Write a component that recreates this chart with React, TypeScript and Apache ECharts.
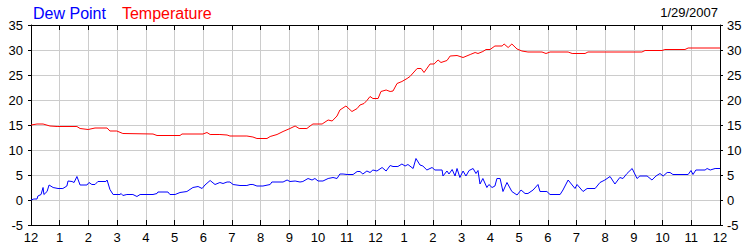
import React, { useEffect, useRef } from "react";
import * as echarts from "echarts";

// hours after midnight (0..24) and readings
const tempHours = [0, 0.21, 0.42, 0.66, 0.91, 1.6, 1.71, 1.99, 2.23, 2.65, 2.75, 2.99, 3.2, 4.25, 4.39, 5.19, 5.26, 5.99, 6.13, 6.24, 6.58, 6.83, 6.93, 7.52, 7.73, 7.87, 8.22, 8.33, 8.57, 8.78, 9.02, 9.2, 9.34, 9.61, 9.72, 9.82, 10.14, 10.35, 10.49, 10.66, 10.76, 10.97, 11.18, 11.36, 11.46, 11.6, 11.7, 11.81, 11.91, 12.09, 12.19, 12.37, 12.51, 12.61, 12.75, 12.92, 13.1, 13.2, 13.45, 13.59, 13.69, 13.9, 14.04, 14.18, 14.28, 14.49, 14.6, 14.84, 15.05, 15.3, 15.47, 15.57, 15.74, 15.85, 15.99, 16.16, 16.41, 16.48, 16.62, 16.75, 16.93, 17.1, 17.31, 17.8, 17.94, 18.08, 18.71, 18.85, 19.3, 19.4, 21.28, 21.39, 21.98, 22.08, 22.78, 22.89, 24];
const tempValues = [15.0, 15.2, 15.2, 14.8, 14.7, 14.7, 14.3, 14.1, 14.4, 14.4, 13.8, 13.8, 13.3, 13.2, 12.9, 12.9, 13.2, 13.2, 13.5, 13.1, 13.1, 13.0, 12.8, 12.8, 12.6, 12.3, 12.3, 12.7, 13.1, 13.7, 14.3, 14.8, 14.3, 14.3, 14.8, 15.2, 15.2, 16.0, 15.8, 16.8, 18.0, 18.8, 17.7, 18.3, 19.0, 19.3, 19.9, 20.7, 20.3, 20.3, 21.7, 22.0, 21.7, 21.8, 23.3, 23.7, 24.3, 24.7, 26.3, 26.3, 25.5, 27.2, 27.2, 28.0, 27.5, 27.9, 28.8, 28.9, 28.5, 29.1, 29.5, 29.3, 29.7, 30.1, 30.1, 30.8, 30.8, 31.2, 30.5, 31.2, 30.2, 29.8, 29.6, 29.6, 29.3, 29.6, 29.6, 29.3, 29.3, 29.6, 29.6, 29.9, 29.9, 30.1, 30.1, 30.4, 30.4];

const dewHours = [0, 0.1, 0.21, 0.24, 0.35, 0.42, 0.45, 0.56, 0.63, 0.77, 0.94, 1.11, 1.25, 1.29, 1.43, 1.5, 1.6, 1.71, 1.95, 2.02, 2.12, 2.23, 2.33, 2.61, 2.65, 2.75, 2.86, 3.1, 3.14, 3.2, 3.34, 3.55, 3.69, 3.8, 4.25, 4.39, 4.42, 4.77, 4.84, 5.02, 5.19, 5.43, 5.64, 5.82, 5.96, 6.06, 6.24, 6.41, 6.58, 6.69, 6.83, 6.93, 7.04, 7.28, 7.52, 7.63, 7.73, 7.87, 8.08, 8.33, 8.39, 8.78, 8.92, 9.02, 9.2, 9.37, 9.47, 9.65, 9.79, 9.89, 10.0, 10.17, 10.35, 10.52, 10.66, 10.76, 10.87, 11.01, 11.22, 11.36, 11.46, 11.56, 11.7, 11.81, 11.91, 12.05, 12.23, 12.37, 12.51, 12.61, 12.78, 12.92, 13.03, 13.13, 13.31, 13.41, 13.55, 13.65, 13.79, 13.97, 14.07, 14.32, 14.35, 14.49, 14.56, 14.67, 14.77, 14.84, 14.94, 15.05, 15.15, 15.26, 15.4, 15.5, 15.57, 15.64, 15.74, 15.88, 15.95, 16.06, 16.16, 16.23, 16.34, 16.44, 16.58, 16.75, 16.93, 17.07, 17.21, 17.31, 17.49, 17.66, 17.73, 17.97, 18.08, 18.43, 18.53, 18.71, 18.85, 18.95, 19.02, 19.23, 19.37, 19.65, 19.82, 19.99, 20.17, 20.34, 20.51, 20.62, 20.76, 20.94, 21.11, 21.21, 21.46, 21.63, 21.77, 21.91, 22.02, 22.16, 22.26, 22.36, 22.89, 22.99, 23.06, 23.16, 23.48, 23.55, 23.66, 23.83, 24];
const dewValues = [0.0, 0.2, 0.2, 0.8, 1.1, 2.5, 1.1, 1.7, 3.0, 2.5, 2.3, 2.3, 2.8, 3.8, 3.7, 3.5, 4.7, 3.0, 3.0, 3.5, 3.1, 3.1, 3.7, 3.7, 4.0, 2.1, 1.1, 1.1, 1.3, 0.9, 1.1, 1.1, 0.7, 1.1, 1.1, 1.3, 1.6, 1.6, 1.1, 1.1, 1.5, 1.7, 2.5, 2.7, 2.3, 3.0, 3.9, 3.1, 3.5, 3.3, 3.6, 3.6, 3.1, 2.9, 2.9, 3.1, 3.1, 2.8, 2.8, 3.1, 3.6, 3.6, 4.0, 3.7, 3.8, 3.6, 3.7, 4.3, 4.0, 4.3, 3.8, 3.8, 4.3, 4.5, 4.3, 5.2, 5.2, 5.1, 5.1, 5.7, 5.7, 5.2, 5.8, 5.5, 6.0, 5.8, 6.5, 5.8, 6.9, 6.7, 6.7, 7.2, 6.8, 7.1, 6.3, 8.3, 7.0, 6.8, 6.0, 6.5, 6.0, 6.0, 4.8, 5.8, 5.2, 6.1, 4.8, 6.3, 4.5, 5.8, 4.8, 5.9, 6.3, 5.3, 5.9, 3.2, 4.3, 2.5, 3.1, 2.5, 2.8, 4.3, 4.3, 1.7, 3.5, 1.7, 1.0, 2.0, 1.3, 1.3, 2.0, 3.1, 1.7, 1.7, 1.1, 1.1, 2.0, 4.0, 3.0, 2.3, 3.1, 1.7, 2.3, 2.3, 3.5, 4.0, 4.7, 3.2, 4.5, 4.3, 5.3, 6.3, 4.3, 4.8, 4.8, 4.0, 4.8, 5.3, 4.8, 5.5, 5.5, 5.1, 5.1, 5.9, 5.1, 6.0, 6.0, 6.3, 6.0, 6.3, 6.3];

const seriesNames = ["Dew Point", "Temperature"];
const dateLabel = "1/29/2007";

const FONT = "Arial, 'Liberation Sans', sans-serif";

export default function App() {
  const ref = useRef<HTMLDivElement>(null);
  useEffect(() => {
    if (!ref.current) return;
    const chart = echarts.init(ref.current, null, { renderer: "svg" });
    const hourLabel = (v: number) => String(v % 12 === 0 ? 12 : v % 12);
    chart.setOption({
      animation: false,
      backgroundColor: "#ffffff",
      textStyle: { fontFamily: FONT },
      grid: { left: 31, right: 30, top: 25, bottom: 25 },
      legend: {
        left: 28,
        top: 5,
        padding: 0,
        itemWidth: 0,
        itemHeight: 14,
        itemGap: 11,
        selectedMode: false,
        data: [
          { name: seriesNames[0], icon: "none", textStyle: { color: "#0000ff" } },
          { name: seriesNames[1], icon: "none", textStyle: { color: "#ff0000" } },
        ],
        textStyle: { fontSize: 16, fontFamily: FONT },
      },
      graphic: [
        {
          type: "text",
          right: 32,
          top: 6,
          style: { text: dateLabel, font: `13px ${FONT}`, fill: "#000" },
        },
      ],
      xAxis: [
        {
          type: "value",
          min: 0,
          max: 24,
          interval: 1,
          position: "bottom",
          axisLine: { onZero: false, lineStyle: { color: "#000", width: 1 } },
          axisTick: { inside: true, length: 5, lineStyle: { color: "#000" } },
          axisLabel: { formatter: hourLabel, color: "#000", fontSize: 13, margin: 6, fontFamily: FONT },
          splitLine: { show: true, lineStyle: { color: "#cccccc", width: 1 } },
        },
        {
          type: "value",
          min: 0,
          max: 24,
          interval: 1,
          position: "top",
          axisLine: { onZero: false, lineStyle: { color: "#000", width: 1 } },
          axisTick: { inside: true, length: 5, lineStyle: { color: "#000" } },
          axisLabel: { show: false },
          splitLine: { show: false },
        },
      ],
      yAxis: [
        {
          type: "value",
          min: -5,
          max: 35,
          interval: 5,
          position: "left",
          axisLine: { show: true, onZero: false, lineStyle: { color: "#000" } },
          axisTick: { show: true, length: 3, lineStyle: { color: "#000" } },
          axisLabel: { color: "#000", fontSize: 13, margin: 8, fontFamily: FONT },
          splitLine: { show: true, lineStyle: { color: "#cccccc", width: 1 } },
        },
        {
          type: "value",
          min: -5,
          max: 35,
          interval: 5,
          position: "right",
          axisLine: { show: true, onZero: false, lineStyle: { color: "#000" } },
          axisTick: { show: true, length: 3, lineStyle: { color: "#000" } },
          axisLabel: { color: "#000", fontSize: 13, margin: 7, fontFamily: FONT },
          splitLine: { show: false },
        },
      ],
      series: [
        {
          name: seriesNames[0],
          type: "line",
          xAxisIndex: 0,
          yAxisIndex: 0,
          showSymbol: false,
          symbol: "none",
          color: "#0000ff",
          lineStyle: { color: "#0000ff", width: 1 },
          data: dewHours.map((h, i) => [h, dewValues[i]]),
        },
        {
          name: seriesNames[1],
          type: "line",
          xAxisIndex: 0,
          yAxisIndex: 0,
          showSymbol: false,
          symbol: "none",
          color: "#ff0000",
          lineStyle: { color: "#ff0000", width: 1 },
          data: tempHours.map((h, i) => [h, tempValues[i]]),
        },
      ],
    });
    return () => chart.dispose();
  }, []);
  return (
    <div
      ref={ref}
      style={{ position: "absolute", left: 0, top: 0, width: 750, height: 250 }}
    />
  );
}
